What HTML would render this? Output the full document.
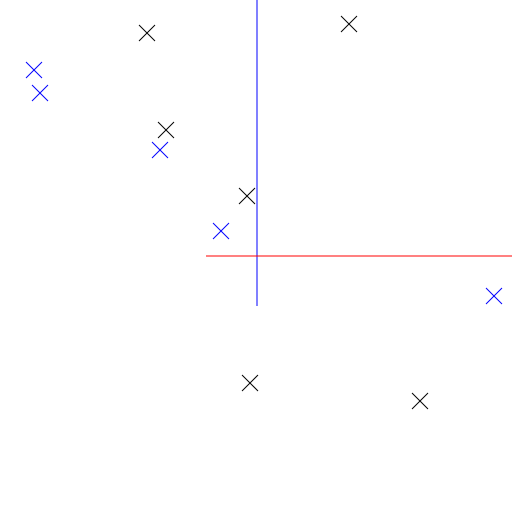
<!DOCTYPE html>
<html>
<head>
<meta charset="utf-8">
<style>
  html,body{margin:0;padding:0;background:#fff;}
  svg{display:block;}
</style>
</head>
<body>
<svg id="chart" width="512" height="512" viewBox="0 0 512 512" xmlns="http://www.w3.org/2000/svg">
  <rect width="512" height="512" fill="#fff"/>
</svg>
<script>
const blackX = [-109, 93, -90, -9, -6, 164];
const blackY = [223, 232, 126, 60, -127, -145];
const blueX = [-222, -216, -96, -35, 238];
const blueY = [186, 163, 106, 25, -40];
const vLineX = [1, 1];
const vLineY = [256, -50];
const hLineX = [-50, 256];
const hLineY = [0, 0];
const markerHalf = 8;

function sx(v){ return 256 + v; }
function sy(v){ return 256 - v; }

const svg = document.getElementById('chart');
const NS = 'http://www.w3.org/2000/svg';

function line(x1,y1,x2,y2,color,name){
  const l = document.createElementNS(NS,'line');
  l.setAttribute('x1',x1); l.setAttribute('y1',y1);
  l.setAttribute('x2',x2); l.setAttribute('y2',y2);
  l.setAttribute('stroke',color); l.setAttribute('stroke-width','1');
  
  
  svg.appendChild(l);
  return l;
}

line(sx(vLineX[0]), sy(vLineY[0]), sx(vLineX[1]), sy(vLineY[1]), '#0000ff', 'vertical-line');
line(sx(hLineX[0]), sy(hLineY[0]), sx(hLineX[1]), sy(hLineY[1]), '#ff0000', 'horizontal-line');

function cross(x,y,color,name){
  const g = document.createElementNS(NS,'g');
  
  
  const cx = sx(x), cy = sy(y), h = markerHalf;
  [[cx-h,cy-h,cx+h,cy+h],[cx-h,cy+h,cx+h,cy-h]].forEach(c=>{
    const l = document.createElementNS(NS,'line');
    l.setAttribute('x1',c[0]); l.setAttribute('y1',c[1]);
    l.setAttribute('x2',c[2]); l.setAttribute('y2',c[3]);
    l.setAttribute('stroke',color); l.setAttribute('stroke-width','1');
    g.appendChild(l);
  });
  svg.appendChild(g);
}

blackX.forEach((x,i)=>cross(x, blackY[i], '#000000', 'black-marker'));
blueX.forEach((x,i)=>cross(x, blueY[i], '#0000ff', 'blue-marker'));
</script>
</body>
</html>
